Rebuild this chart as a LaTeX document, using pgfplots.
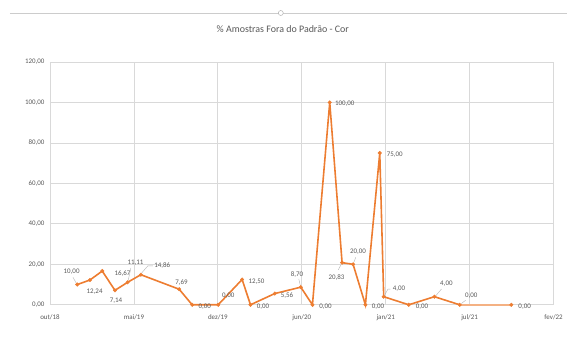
\documentclass[border=0pt]{standalone}
\usepackage{fontspec}
\setmainfont{Carlito}
\usepackage{pgfplots}
\pgfplotsset{compat=1.18}
\definecolor{org}{HTML}{ED7D31}
\definecolor{orgl}{HTML}{F4B183}
\definecolor{grd}{HTML}{D9D9D9}
\definecolor{txt}{HTML}{595959}
\begin{document}
\begin{tikzpicture}[
  lbl/.style={font=\fontsize{7}{8}\selectfont, text=txt, inner sep=0pt},
  ldr/.style={draw=gray!60, line width=0.4bp}]
\begin{axis}[at={(0,0)}, anchor=south west, scale only axis,
  width=504bp, height=243bp,
  xmin=0, xmax=6, ymin=0, ymax=120, enlargelimits=false, clip=false,
  xtick={0,1,2,3,4,5,6},
  xticklabels={out/18,mai/19,dez/19,jun/20,jan/21,jul/21,fev/22},
  ytick={0,20,40,60,80,100,120},
  /pgf/number format/assume math mode=true,
  yticklabel style={/pgf/number format/fixed, /pgf/number format/fixed zerofill,
    /pgf/number format/precision=2, /pgf/number format/use comma},
  ticklabel style={font=\fontsize{7}{8}\selectfont, text=txt},
  xticklabel style={yshift=-6bp},
  yticklabel style={xshift=-2bp},
  major tick length=0pt, tick style={draw=none},
  grid=major, major grid style={grd, line width=0.7bp},
  axis line style={grd, line width=0.7bp},
]
\addplot[org, line width=1.6bp, mark=*, mark size=1.8bp, mark options={fill=org, draw=org, line width=0.4bp}] coordinates {
(0.325,10.00) (0.476,12.24) (0.623,16.67) (0.774,7.14) (0.925,11.11) (1.083,14.86)
(1.539,7.69) (1.694,0.00) (2.004,0.00) (2.289,12.50) (2.389,0.00) (2.679,5.56)
(2.988,8.70) (3.127,0.00) (3.333,100.00) (3.480,20.83) (3.611,20.00) (3.758,0.00)
(3.929,75.00) (3.976,4.00) (4.274,0.00) (4.580,4.00) (4.881,0.00)
};
\addplot[orgl, line width=1.6bp] coordinates {(4.881,0) (5.496,0)};
\addplot[only marks, mark=*, mark size=1.8bp, mark options={fill=org, draw=org, line width=0.4bp}] coordinates {(5.496,0)};
\node[lbl] at (axis cs:0.258,16.15) {10,00};
\node[lbl] at (axis cs:0.532,6.57) {12,24};
\node[lbl] at (axis cs:0.865,15.65) {16,67};
\node[lbl] at (axis cs:0.786,1.98) {7,14};
\node[lbl] at (axis cs:1.020,20.59) {11,11};
\node[lbl] at (axis cs:1.337,19.26) {14,86};
\node[lbl] at (axis cs:1.568,11.21) {7,69};
\node[lbl] at (axis cs:1.845,-0.84) {0,00};
\node[lbl] at (axis cs:2.123,4.44) {0,00};
\node[lbl] at (axis cs:2.461,11.51) {12,50};
\node[lbl] at (axis cs:2.539,-0.84) {0,00};
\node[lbl] at (axis cs:2.825,4.59) {5,56};
\node[lbl] at (axis cs:2.944,15.16) {8,70};
\node[lbl] at (axis cs:3.282,-0.84) {0,00};
\node[lbl] at (axis cs:3.512,99.26) {100,00};
\node[lbl] at (axis cs:4.107,74.42) {75,00};
\node[lbl] at (axis cs:3.670,26.02) {20,00};
\node[lbl] at (axis cs:3.413,13.68) {20,83};
\node[lbl] at (axis cs:3.908,-0.84) {0,00};
\node[lbl] at (axis cs:4.158,7.75) {4,00};
\node[lbl] at (axis cs:4.432,-0.84) {0,00};
\node[lbl] at (axis cs:4.723,10.22) {4,00};
\node[lbl] at (axis cs:5.020,4.44) {0,00};
\node[lbl] at (axis cs:5.655,-0.84) {0,00};
\draw[ldr] (axis cs:0.274,13.58) -- (axis cs:0.315,10.6);
\draw[ldr] (axis cs:0.964,18.27) -- (axis cs:0.932,12.0);
\draw[ldr] (axis cs:1.090,15.6) -- (axis cs:1.167,19.26) -- (axis cs:1.226,19.26);
\draw[ldr] (axis cs:2.964,12.84) -- (axis cs:2.982,9.6);
\draw[ldr] (axis cs:3.435,17.28) -- (axis cs:3.470,20.0);
\draw[ldr] (axis cs:3.643,23.46) -- (axis cs:3.620,21.0);
\draw[ldr] (axis cs:3.988,4.94) -- (axis cs:4.027,7.75) -- (axis cs:4.056,7.75);
\draw[ldr] (axis cs:4.600,4.6) -- (axis cs:4.663,7.75);
\draw[ldr] (axis cs:4.901,0.6) -- (axis cs:4.952,2.22);
\end{axis}
\draw[gray!40, line width=0.8bp] (-40bp,292bp) -- (517bp,292bp);
\draw[gray!60, fill=white, line width=0.5bp] (231bp,292bp) circle (2.5bp);
\node[font=\fontsize{10}{12}\selectfont, text=txt] at (233bp,276bp) {\% Amostras Fora do Padrão - Cor};
\path[use as bounding box] (-50bp,-33bp) rectangle (517bp,305bp);
\end{tikzpicture}
\end{document}
